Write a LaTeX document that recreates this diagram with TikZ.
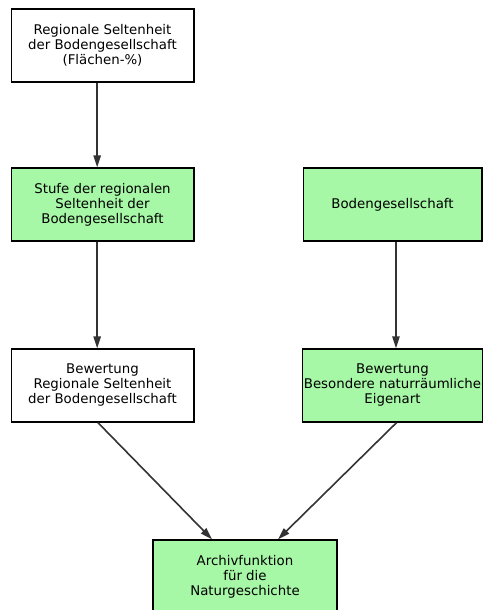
\documentclass[tikz,border=0pt]{standalone}
\usepackage{fontspec}
\setmainfont{DejaVu Sans}
\usetikzlibrary{positioning,arrows.meta}
\definecolor{boxgreen}{HTML}{A6F7A6}
\definecolor{linegray}{HTML}{333333}

\begin{document}
\begin{tikzpicture}[x=0.75pt,y=-0.75pt,
	box/.style={draw=black,line width=1pt,minimum width=137pt,minimum height=54.75pt,align=center,inner sep=1pt,font=\fontsize{10pt}{11.25pt}\selectfont},
	greenbox/.style={box,fill=boxgreen},
	arr/.style={draw=linegray,line width=1.2pt,-{Triangle[length=9pt,width=5.5pt]}}]
	\useasboundingbox (0,0) rectangle (483,610);
	\node[box] (rare) at (102.5,45.5) {Regionale Seltenheit\\der Bodengesellschaft\\(Flächen-\%)};
	\node[greenbox] (stufe) at (102.5,204.5) {Stufe der regionalen\\Seltenheit der\\Bodengesellschaft};
	\node[greenbox,minimum width=134pt] (bodges) at (392.5,204.5) {Bodengesellschaft};
	\node[box] (bewrare) at (102.5,385.5) {Bewertung\\Regionale Seltenheit\\der Bodengesellschaft};
	\node[greenbox,minimum width=134pt] (bewnatur) at (392.5,385.5) {Bewertung\\Besondere naturräumliche\\Eigenart};
	\node[greenbox,minimum width=138pt] (archiv) at (245,576.5) {Archivfunktion\\für die\\Naturgeschichte};
	
	\draw[arr] ([xshift=-4pt]rare.south) -- ([xshift=-4pt]stufe.north);
	\draw[arr] ([xshift=-4pt]stufe.south) -- ([xshift=-4pt]bewrare.north);
	\draw[arr] ([xshift=2.6pt]bodges.south) -- ([xshift=2.6pt]bewnatur.north);
	\draw[arr] ([xshift=-3.4pt]bewrare.south) -- ([xshift=-24.75pt]archiv.north);
	\draw[arr] ([xshift=3pt]bewnatur.south) -- ([xshift=24.75pt]archiv.north);
	
\end{tikzpicture}
\end{document}
